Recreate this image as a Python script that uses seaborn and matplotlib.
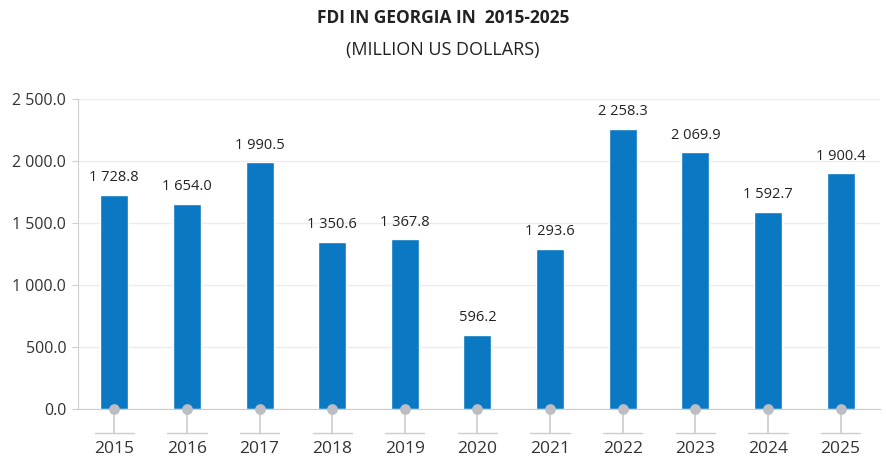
import matplotlib
matplotlib.use("Agg")
import matplotlib.pyplot as plt
import matplotlib.transforms as mtransforms
import matplotlib.ticker as ticker
import pandas as pd
import seaborn as sns

years = ["2015", "2016", "2017", "2018", "2019", "2020",
         "2021", "2022", "2023", "2024", "2025"]
fdi = [1728.8, 1654.0, 1990.5, 1350.6, 1367.8, 596.2,
       1293.6, 2258.3, 2069.9, 1592.7, 1900.4]
y_ticks = [0, 500, 1000, 1500, 2000, 2500]


def fmt(v):
    return f"{v:,.1f}".replace(",", " ")


sns.set_style("white")
plt.rcParams['font.family'] = ['Open Sans', 'DejaVu Sans']

df = pd.DataFrame({"year": years, "fdi": fdi})

fig = plt.figure(figsize=(8.86, 4.71), dpi=100)
ax = fig.add_axes([0.088, 0.1316, 0.905, 0.658])

sns.barplot(data=df, x="year", y="fdi", color="#0a78c2", saturation=1,
            width=0.385, ax=ax, zorder=3)

ax.set_ylim(0, 2500)
ax.set_xlim(-0.5, 10.54)
ax.set_yticks(y_ticks)
ax.yaxis.set_major_formatter(ticker.FuncFormatter(lambda v, p: fmt(v)))
ax.yaxis.grid(True, color="#ececec", linewidth=1, zorder=0)
ax.set_xlabel(None)
ax.set_ylabel(None)

for side in ["top", "right"]:
    ax.spines[side].set_visible(False)
ax.spines["left"].set_color("#cfcfcf")
ax.spines["bottom"].set_color("#cccccc")
ax.spines["bottom"].set_zorder(4)

ax.tick_params(axis="y", left=True, length=4.5, color="#cfcfcf",
               labelsize=11.5, labelcolor="#333333", pad=4)
ax.tick_params(axis="x", bottom=True, length=17.3, width=1.2, color="#cccccc",
               labelsize=12.5, labelcolor="#333333", pad=6)

# short horizontal strokes under each x tick
trans = mtransforms.blended_transform_factory(ax.transData, ax.transAxes)
for i in range(len(years)):
    ax.plot([i - 0.27, i + 0.27], [-0.0774, -0.0774], transform=trans,
            color="#cccccc", linewidth=1, clip_on=False)

# grey dots at bar bases
ax.scatter(range(len(years)), [0] * len(years), s=60, color="#bdbdc4",
           zorder=5, clip_on=False, linewidths=0)

for i, v in enumerate(fdi):
    ax.annotate(fmt(v), (i, v), xytext=(0, 7), textcoords="offset points",
                ha="center", va="bottom", fontsize=10.5, color="#222222")

fig.text(0.5, 0.962, "FDI IN GEORGIA IN  2015-2025", ha="center", va="center",
         fontsize=12.5, fontweight="bold", color="#222222")
fig.text(0.5, 0.893, "(MILLION US DOLLARS)", ha="center", va="center",
         fontsize=13, color="#222222")

fig.savefig("out.png", dpi=100)
